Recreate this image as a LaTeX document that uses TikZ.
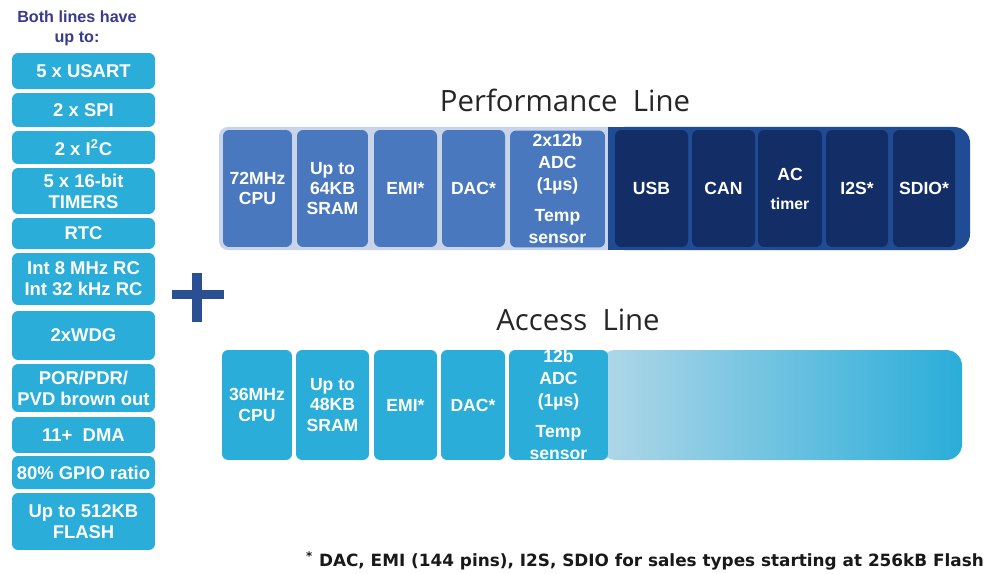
\documentclass[tikz,border=0pt]{standalone}
\usepackage{fontspec}
\setmainfont{Liberation Sans}
\newfontfamily\titlefont{Open Sans}
\newfontfamily\notefont{DejaVu Sans}
\usepackage{xcolor}
\usetikzlibrary{positioning}

\definecolor{cyanblk}{HTML}{2AADD9}
\definecolor{cyanpale}{HTML}{B0D7E8}
\definecolor{perfblk}{HTML}{4A78BF}
\definecolor{perfbg}{HTML}{CAD4E8}
\definecolor{navybg}{HTML}{1F4C95}
\definecolor{navyblk}{HTML}{132E66}
\definecolor{headcol}{HTML}{3A3A8E}
\definecolor{pluscol}{HTML}{2B4F93}

\tikzset{
  blk/.style={rounded corners=3.5pt, text=white, align=center, inner sep=0pt,
              font=\bfseries\fontsize{10}{11.5}\selectfont},
  sidebox/.style={blk, fill=cyanblk, minimum width=2.86cm,
                  font=\bfseries\fontsize{10.5}{12}\selectfont},
  perfbox/.style={blk, fill=perfblk, minimum height=2.34cm},
  navybox/.style={blk, fill=navyblk, minimum height=2.34cm},
  accbox/.style={blk, fill=cyanblk, minimum height=2.2cm},
  adctext/.style={font=\bfseries\fontsize{10}{12.6}\selectfont},
  linetitle/.style={font=\titlefont\fontsize{16.7}{20}\selectfont, text=black!85}
}

\begin{document}
\begin{tikzpicture}[x=0.02cm,y=-0.02cm]
  \useasboundingbox[fill=white] (0,0) rectangle (990,574);

  % left column
  \node[font=\bfseries\fontsize{9.2}{11.3}\selectfont, text=headcol, align=center]
    (both) at (77,28) {Both lines have\\up to:};
  \node[sidebox, minimum height=0.72cm] (usart) at (83.5,71) {5 x USART};
  \node[sidebox, minimum height=0.68cm] (spi) at (83.5,110) {2 x SPI};
  \node[sidebox, minimum height=0.66cm] (iic) at (83.5,147.5) {2 x I\textsuperscript{2}C};
  \node[sidebox, minimum height=0.92cm] (timers) at (83.5,191) {5 x 16-bit\\TIMERS};
  \node[sidebox, minimum height=0.62cm] (rtc) at (83.5,233.5) {RTC};
  \node[sidebox, minimum height=1.04cm] (rc) at (83.5,279) {Int 8 MHz RC\\Int 32 kHz RC};
  \node[sidebox, minimum height=0.98cm] (wdg) at (83.5,335.5) {2xWDG};
  \node[sidebox, minimum height=0.96cm] (por) at (83.5,388) {POR/PDR/\\PVD brown out};
  \node[sidebox, minimum height=0.72cm] (dma) at (83.5,435) {11+\ \ DMA};
  \node[sidebox, minimum height=0.66cm] (gpio) at (83.5,472.5) {80\% GPIO ratio};
  \node[sidebox, minimum height=1.14cm] (flash) at (83.5,521.5) {Up to 512KB\\FLASH};

  % plus sign
  \draw[pluscol, line width=0.18cm] (172,294.5) -- (224,294.5);
  \draw[pluscol, line width=0.2cm] (197,273) -- (197,322);

  % performance line
  \node[linetitle] (perftitle) at (565,100) {Performance\ \ Line};
  \fill[perfbg, rounded corners=5pt] (219,127) rectangle (620,250);
  \fill[navybg, rounded corners=9pt] (608,127) rectangle (970,250);
  \fill[navybg] (608,127) rectangle (640,250);
  \node[perfbox, minimum width=1.38cm] (cpuP) at (257.5,188.5) {72MHz\\CPU};
  \node[perfbox, minimum width=1.42cm] (sramP) at (332.5,188.5) {Up to\\64KB\\SRAM};
  \node[perfbox, minimum width=1.26cm] (emiP) at (405.5,188.5) {EMI*};
  \node[perfbox, minimum width=1.26cm] (dacP) at (473.5,188.5) {DAC*};
  \node[perfbox, adctext, minimum width=1.90cm] (adcP) at (557.5,189) {2x12b\\ADC\\(1µs)\\[5pt]Temp\\sensor};
  \node[navybox, minimum width=1.46cm] (usb) at (651.5,188.5) {USB};
  \node[navybox, minimum width=1.26cm] (can) at (723.5,188.5) {CAN};
  \node[navybox, minimum width=1.28cm] (actim) at (790,188.5) {AC\\[5pt]{\fontsize{9}{10}\selectfont timer}};
  \node[navybox, minimum width=1.24cm] (iis) at (857,188.5) {I2S*};
  \node[navybox, minimum width=1.24cm] (sdio) at (924,188.5) {SDIO*};

  % access line
  \node[linetitle] (acctitle) at (578,320) {Access\ \ Line};
  \shade[left color=cyanpale, right color=cyanblk, rounded corners=9pt]
    (600,350) rectangle (962,460);
  \node[accbox, minimum width=1.40cm] (cpuA) at (257,405) {36MHz\\CPU};
  \node[accbox, minimum width=1.46cm] (sramA) at (332.5,405) {Up to\\48KB\\SRAM};
  \node[accbox, minimum width=1.26cm] (emiA) at (405.5,405) {EMI*};
  \node[accbox, minimum width=1.28cm] (dacA) at (473,405) {DAC*};
  \node[accbox, minimum width=1.98cm] (adcA) at (558.5,405) {};
  \begin{scope}
    \clip[rounded corners=3.5pt] (adcA.south west) rectangle (adcA.north east);
    \node[blk, adctext] (adcAtext) at (558.5,405) {12b\\ADC\\(1µs)\\[5pt]Temp\\sensor};
  \end{scope}

  % footnote
  \node[font=\notefont\bfseries\fontsize{9.6}{11}\selectfont, text=black!90]
    (note) at (645,561) {\textsuperscript{*} DAC, EMI (144 pins), I2S, SDIO for sales types starting at 256kB Flash};
\end{tikzpicture}
\end{document}
